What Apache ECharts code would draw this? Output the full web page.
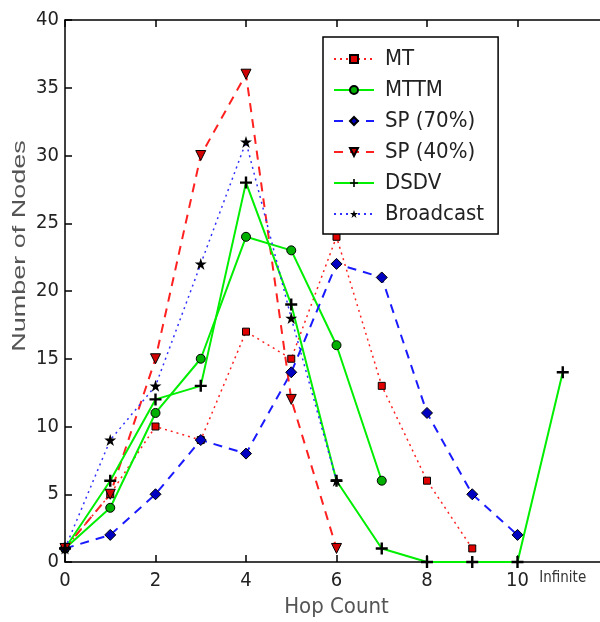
<!DOCTYPE html>
<html>
<head>
<meta charset="utf-8">
<script src="https://cdn.jsdelivr.net/npm/echarts@6/dist/echarts.min.js"></script>
<style>
  html, body { margin: 0; padding: 0; background: #fff; }
  #chart { width: 600px; height: 622px; }
</style>
</head>
<body>
<div id="chart"></div>
<script>
// hop counts, 11 = "Infinite"
var hops = [0, 1, 2, 3, 4, 5, 6, 7, 8, 9, 10, 11];
var xTickLabels = [0, 2, 4, 6, 8, 10, 11];

var mt = [1, 5, 10, 9, 17, 15, 24, 13, 6, 1];
var mttm = [1, 4, 11, 15, 24, 23, 16, 6];
var sp70 = [1, 2, 5, 9, 8, 14, 22, 21, 11, 5, 2];
var sp40 = [1, 5, 15, 30, 36, 12, 1];
var dsdv = [1, 6, 12, 13, 28, 19, 6, 1, 0, 0, 0, 14];
var broadcast = [1, 9, 13, 22, 31, 18, 6];

var plusPath = "path://M4,0h2v4h4v2h-4v4h-2v-4h-4v-2h4z";
var starPath = "path://M5,0L6.2,3.6L10,3.6L6.9,5.8L8.1,9.5L5,7.2L1.9,9.5L3.1,5.8L0,3.6L3.8,3.6Z";

function pairs(arr) {
  return arr.map(function (v, i) {
    return [hops[i], v];
  });
}

function makeLine(name, arr, color, type, width, symbol, symbolSize, fill, border) {
  return {
    name: name,
    type: "line",
    data: pairs(arr),
    symbol: symbol,
    symbolSize: symbolSize,
    showAllSymbol: true,
    lineStyle: { color: color, type: type, width: width },
    itemStyle: { color: fill, borderColor: "#000", borderWidth: border },
    emphasis: { disabled: true },
    animation: false,
  };
}

var chart = echarts.init(document.getElementById("chart"));
var font = "Liberation Sans, Arial, sans-serif";
var narrow = "Liberation Sans Narrow, DejaVu Sans Condensed, Liberation Sans, sans-serif";

var tick = { inside: true, length: 7, lineStyle: { color: "#000", width: 1.5 } };
var line = { color: "#000", width: 1.5 };

var options = {
  animation: false,
  textStyle: { fontFamily: font },
  grid: { left: 65, top: 20, width: 543, height: 542, outerBoundsMode: "none" },
  legend: {
    left: 323,
    top: 37,
    orient: "vertical",
    backgroundColor: "#fff",
    borderColor: "#000",
    borderWidth: 1.5,
    padding: [11, 14, 9, 10],
    itemWidth: 40,
    itemHeight: 10,
    itemGap: 9,
    textStyle: { fontSize: 22, color: "#222", fontFamily: narrow, padding: [0, 0, 0, 6] },
  },
  xAxis: [
    {
      type: "value",
      min: 0,
      max: 12,
      interval: 2,
      name: "Hop Count",
      nameLocation: "middle",
      nameGap: 31,
      nameTextStyle: { fontSize: 22, color: "#555", fontFamily: narrow },
      axisLine: { lineStyle: line },
      axisTick: tick,
      axisLabel: {
        customValues: xTickLabels,
        margin: 9,
        fontSize: 20,
        color: "#222",
        fontFamily: narrow,
        formatter: function (v) {
          return v === 11 ? "{s|Infinite}" : String(v);
        },
        rich: { s: { fontSize: 15, color: "#333", fontFamily: narrow, padding: [0, 0, 6, 0] } },
      },
      splitLine: { show: false },
    },
    {
      type: "value",
      position: "top",
      min: 0,
      max: 12,
      interval: 2,
      axisLine: { onZero: false, lineStyle: line },
      axisTick: tick,
      axisLabel: { show: false },
      splitLine: { show: false },
    },
  ],
  yAxis: [
    {
      type: "value",
      min: 0,
      max: 40,
      interval: 5,
      axisLine: { show: true, onZero: false, lineStyle: line },
      axisTick: { show: true, inside: true, length: 7, lineStyle: line },
      axisLabel: { margin: 6, fontSize: 20, color: "#222", fontFamily: narrow },
      splitLine: { show: false },
    },
    {
      type: "value",
      position: "right",
      min: 0,
      max: 40,
      interval: 5,
      axisLine: { show: true, onZero: false, lineStyle: line },
      axisTick: { show: true, inside: true, length: 7, lineStyle: line },
      axisLabel: { show: false },
      splitLine: { show: false },
    },
  ],
  graphic: [
    {
      type: "text",
      x: 20,
      y: 246,
      rotation: Math.PI / 2,
      scaleX: 1.42,
      style: {
        text: "Number of Nodes",
        fontSize: 19,
        fontFamily: font,
        fill: "#555",
        align: "center",
        verticalAlign: "middle",
      },
    },
  ],
  series: [
    makeLine("MT", mt, "#ff2020", [2, 4], 1.5, "rect", 7, "#e00000", 1),
    makeLine("MTTM", mttm, "#00ee00", "solid", 2, "circle", 9, "#00b000", 1),
    makeLine("SP (70%)", sp70, "#1a1aff", [9, 7], 2, "diamond", 11, "#0000c0", 1),
    makeLine("SP (40%)", sp40, "#ff2020", [9, 7], 2, "triangle", 10, "#d00000", 1),
    makeLine("DSDV", dsdv, "#00ee00", "solid", 2, plusPath, 12, "#000", 0),
    makeLine("Broadcast", broadcast, "#3030ff", [2, 4], 1.5, starPath, 12, "#000", 0),
  ],
};

// SP (40%) uses a downward triangle
options.series[3].symbolRotate = 180;

chart.setOption(options, true);
</script>
</body>
</html>
